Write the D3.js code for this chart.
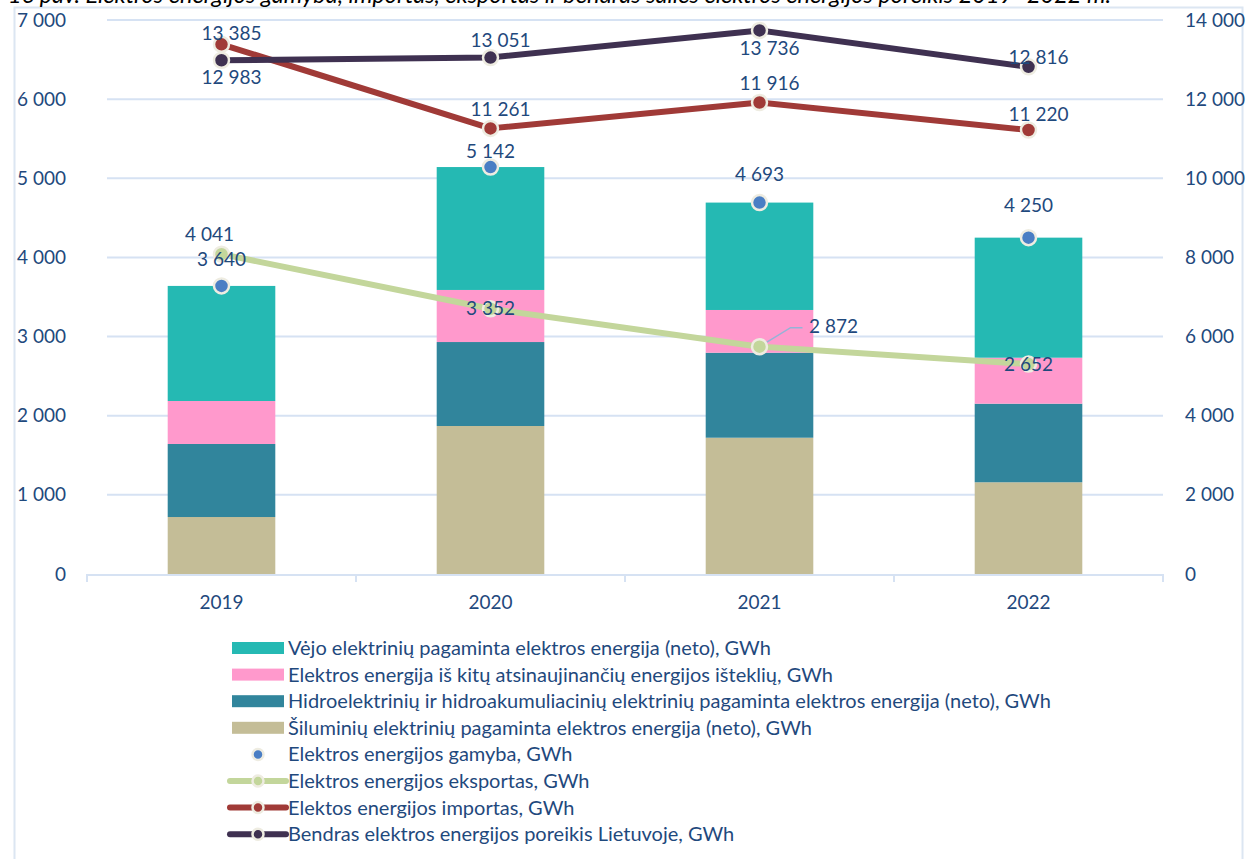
<!DOCTYPE html>
<html>
<head>
<meta charset="utf-8">
<script src="https://cdn.jsdelivr.net/npm/d3@7"></script>
<style>
  body { margin: 0; background: #fff; }
  svg text { font-family: Lato, "Open Sans", sans-serif; }
</style>
</head>
<body>
<svg id="chart" width="1247" height="859"></svg>
<script>
// data
const years = ["2019", "2020", "2021", "2022"];
const thermal = [720, 1870, 1722, 1159];
const hydro = [923, 1061, 1074, 993];
const otherRes = [543, 658, 540, 581];
const wind = [1454, 1553, 1357, 1517];
const production = [3640, 5142, 4693, 4250];
const exportGwh = [4041, 3352, 2872, 2652];
const importGwh = [13385, 11261, 11916, 11220];
const demand = [12983, 13051, 13736, 12816];
const leftTicks = [0, 1000, 2000, 3000, 4000, 5000, 6000, 7000];
const rightTicks = [0, 2000, 4000, 6000, 8000, 10000, 12000, 14000];

const txt = "#1F497D";
const fmt = v => d3.format(",")(v).replace(/,/g, " ");

const svg = d3.select("#chart");
const m = { left: 87, right: 1163, top: 20, bottom: 574 };

// outer frame
svg.append("rect").attr("x", 14.5).attr("y", 7.5).attr("width", 1228).attr("height", 900)
  .attr("fill", "none").attr("stroke", "#DCE6F2").attr("stroke-width", 2);

// title (cut at the top, as in the source)
svg.append("text").attr("x", 8).attr("y", 3)
  .attr("font-size", 23.5).attr("font-style", "italic").attr("fill", "#000")
  .text("16 pav. Elektros energijos gamyba, importas, eksportas ir bendras šalies elektros energijos poreikis 2019–2022 m.");

const x = d3.scaleBand().domain(years).range([m.left, m.right]).paddingInner(0).paddingOuter(0);
const yL = d3.scaleLinear().domain([0, 7000]).range([m.bottom, m.top]);
const yR = d3.scaleLinear().domain([0, 14000]).range([m.bottom, m.top]);

// grid
svg.append("g").selectAll("line").data(leftTicks.slice(1)).join("line")
  .attr("x1", m.left + 20).attr("x2", m.right)
  .attr("y1", d => yL(d)).attr("y2", d => yL(d))
  .attr("stroke", "#D6E2F3").attr("stroke-width", 2);

// left axis
const gl = svg.append("g").attr("transform", `translate(${m.left - 21},0)`)
  .call(d3.axisLeft(yL).tickValues(leftTicks).tickFormat(fmt).tickSize(0).tickPadding(0));
gl.select(".domain").remove();
gl.selectAll("text").attr("font-size", 19).attr("fill", txt);

// right axis
const gr = svg.append("g").attr("transform", `translate(${m.right + 22},0)`)
  .call(d3.axisRight(yR).tickValues(rightTicks).tickFormat(fmt).tickSize(0).tickPadding(0));
gr.select(".domain").remove();
gr.selectAll("text").attr("font-size", 19).attr("fill", txt);

// stacked bars
const rows = years.map((y, i) => ({ year: y, thermal: thermal[i], hydro: hydro[i], other: otherRes[i], wind: wind[i] }));
const keys = ["thermal", "hydro", "other", "wind"];
const colors = { thermal: "#C4BD97", hydro: "#31859C", other: "#FF99CC", wind: "#25B9B3" };
const stack = d3.stack().keys(keys)(rows);
const bw = x.bandwidth() * 0.4;
svg.append("g").selectAll("g").data(stack).join("g")
  .attr("fill", d => colors[d.key])
  .selectAll("rect").data(d => d).join("rect")
  .attr("x", d => x(d.data.year) + x.bandwidth() / 2 - bw / 2)
  .attr("width", bw)
  .attr("y", d => yL(d[1]))
  .attr("height", d => yL(d[0]) - yL(d[1]));

// x axis
svg.append("line").attr("x1", m.left).attr("x2", m.right).attr("y1", m.bottom + 1).attr("y2", m.bottom + 1)
  .attr("stroke", "#D6E2F3").attr("stroke-width", 2);
const sep = years.map(y => x(y)).concat([m.right]);
svg.append("g").selectAll("line").data(sep).join("line")
  .attr("x1", d => d).attr("x2", d => d).attr("y1", m.bottom).attr("y2", m.bottom + 8)
  .attr("stroke", "#D6E2F3").attr("stroke-width", 2);
svg.append("g").selectAll("text").data(years).join("text")
  .attr("x", d => x(d) + x.bandwidth() / 2).attr("y", 609)
  .attr("text-anchor", "middle").attr("font-size", 19).attr("fill", txt).text(d => d);

const cx = i => x(years[i]) + x.bandwidth() / 2;
const line = (vals, ys) => d3.line().x((d, i) => cx(i)).y(d => ys(d))(vals);

// lines
const series = [
  { vals: exportGwh, scale: yL, color: "#C3D69B" },
  { vals: importGwh, scale: yR, color: "#A03A37" },
  { vals: demand, scale: yR, color: "#3F3151" }
];
series.forEach(s => {
  svg.append("path").attr("d", line(s.vals, s.scale)).attr("fill", "none")
    .attr("stroke", s.color).attr("stroke-width", 6).attr("stroke-linejoin", "round");
});

// leader line for 2021 export label
svg.append("polyline")
  .attr("points", `${cx(2)},${yL(exportGwh[2])} ${cx(2) + 31},${yL(exportGwh[2]) - 19} ${cx(2) + 43},${yL(exportGwh[2]) - 19}`)
  .attr("fill", "none").attr("stroke", "#95B3D7").attr("stroke-width", 1.5);

// markers
const markerSets = [
  { vals: production, scale: yL, fill: "#4A7EC4" },
  { vals: exportGwh, scale: yL, fill: "#C3D69B" },
  { vals: importGwh, scale: yR, fill: "#A03A37" },
  { vals: demand, scale: yR, fill: "#3F3151" }
];
markerSets.forEach(s => {
  svg.append("g").selectAll("circle").data(s.vals).join("circle")
    .attr("cx", (d, i) => cx(i)).attr("cy", d => s.scale(d)).attr("r", 7.5)
    .attr("fill", s.fill).attr("stroke", "#EEECE1").attr("stroke-width", 2.5);
});

// value labels (dx, dy offsets from point)
const labelSets = [
  { vals: production, scale: yL, off: [[0, -27], [0, -16], [0, -28], [0, -32]] },
  { vals: exportGwh, scale: yL, off: [[-12, -20], [0, 0], [74, -20], [0, 0]] },
  { vals: importGwh, scale: yR, off: [[10, -11], [10, -19], [10, -19], [10, -16]] },
  { vals: demand, scale: yR, off: [[10, 17], [10, -17], [10, 18], [10, -10]] }
];
labelSets.forEach(s => {
  svg.append("g").selectAll("text").data(s.vals).join("text")
    .attr("x", (d, i) => cx(i) + s.off[i][0]).attr("y", (d, i) => s.scale(d) + s.off[i][1])
    .attr("dy", "0.35em").attr("text-anchor", "middle")
    .attr("font-size", 19).attr("fill", txt).text(d => fmt(d));
});

// legend
const legend = [
  { label: "Vėjo elektrinių pagaminta elektros energija (neto), GWh", type: "box", color: "#25B9B3" },
  { label: "Elektros energija iš kitų atsinaujinančių energijos išteklių, GWh", type: "box", color: "#FF99CC" },
  { label: "Hidroelektrinių ir hidroakumuliacinių elektrinių pagaminta elektros energija (neto), GWh", type: "box", color: "#31859C" },
  { label: "Šiluminių elektrinių pagaminta elektros energija (neto), GWh", type: "box", color: "#C4BD97" },
  { label: "Elektros energijos gamyba, GWh", type: "dot", color: "#4A7EC4" },
  { label: "Elektros energijos eksportas, GWh", type: "line", color: "#C3D69B" },
  { label: "Elektos energijos importas, GWh", type: "line", color: "#A03A37" },
  { label: "Bendras elektros energijos poreikis Lietuvoje, GWh", type: "line", color: "#3F3151" }
];
const lg = svg.append("g").selectAll("g").data(legend).join("g")
  .attr("transform", (d, i) => `translate(232,${648 + i * 26.6})`);
lg.filter(d => d.type === "box").append("rect")
  .attr("x", 0).attr("y", -6).attr("width", 52).attr("height", 12).attr("fill", d => d.color);
lg.filter(d => d.type === "line").append("line")
  .attr("x1", -2).attr("x2", 54).attr("stroke", d => d.color).attr("stroke-width", 6).attr("stroke-linecap", "round");
lg.filter(d => d.type !== "box").append("circle")
  .attr("cx", 26).attr("r", 5.5).attr("fill", d => d.color).attr("stroke", "#EEECE1").attr("stroke-width", 2.5);
lg.append("text").attr("x", 56).attr("dy", "0.35em")
  .attr("font-size", 20).attr("fill", txt).text(d => d.label);
</script>
</body>
</html>
